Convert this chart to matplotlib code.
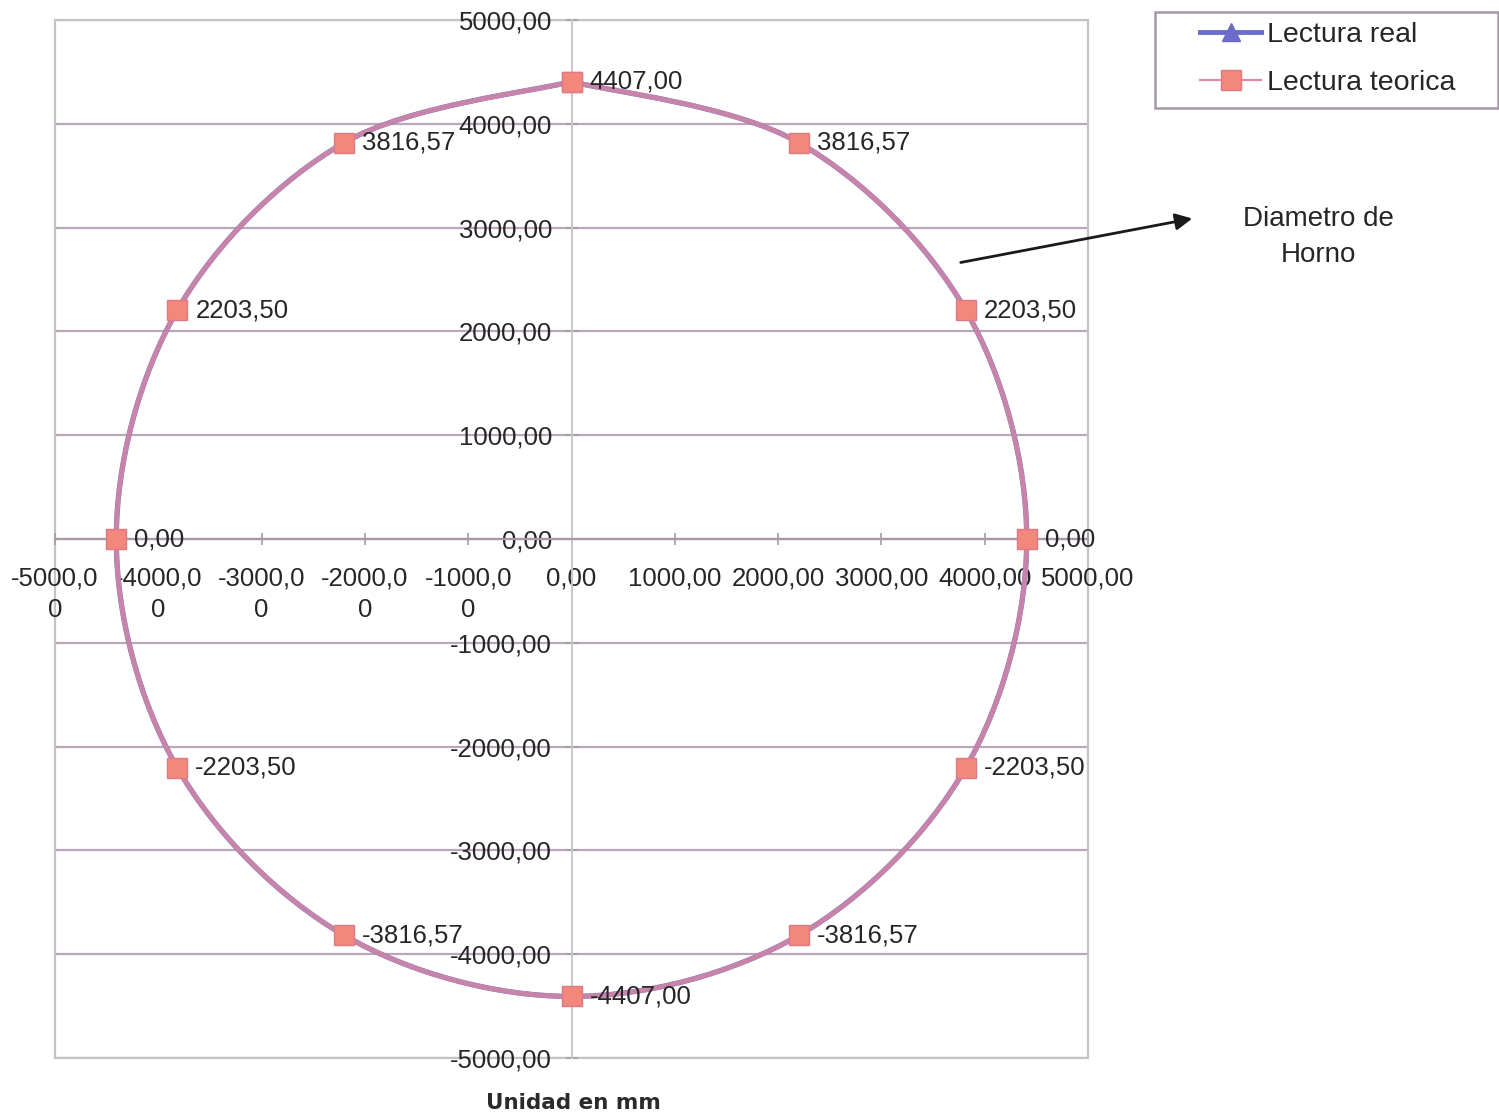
import numpy as np
import matplotlib
matplotlib.use("Agg")
import matplotlib.pyplot as plt
from matplotlib.path import Path
from matplotlib.patches import PathPatch, Rectangle, FancyArrowPatch
from matplotlib.lines import Line2D

plt.rcParams['font.family'] = ['Liberation Sans', 'DejaVu Sans']

# Kiln shell readings around the circumference (mm), clockwise from the top
x_real = [0, 2203.50, 3816.57, 4407.00, 3816.57, 2203.50, 0, -2203.50, -3816.57, -4407.00, -3816.57, -2203.50, 0]
y_real = [4407.00, 3816.57, 2203.50, 0.00, -2203.50, -3816.57, -4407.00, -3816.57, -2203.50, 0.00, 2203.50, 3816.57, 4407.00]
x_teo = [0, 2203.50, 3816.57, 4407.00, 3816.57, 2203.50, 0, -2203.50, -3816.57, -4407.00, -3816.57, -2203.50, 0]
y_teo = [4407.00, 3816.57, 2203.50, 0.00, -2203.50, -3816.57, -4407.00, -3816.57, -2203.50, 0.00, 2203.50, 3816.57, 4407.00]

ticks = [-5000, -4000, -3000, -2000, -1000, 0, 1000, 2000, 3000, 4000, 5000]
xtick_labels = ["-5000,0\n0", "-4000,0\n0", "-3000,0\n0", "-2000,0\n0", "-1000,0\n0",
                "0,00", "1000,00", "2000,00", "3000,00", "4000,00", "5000,00"]
ytick_labels = ["-5000,00", "-4000,00", "-3000,00", "-2000,00", "-1000,00",
                "0,00", "1000,00", "2000,00", "3000,00", "4000,00", "5000,00"]

BLUE = '#6b6bc9'
PINK = '#e08aa2'
SQUARE = '#f4877c'
GRID = '#b7a7b7'
TXT = '#262626'

W, H = 1499, 1120


def fmt(v):
    return f"{v:.2f}".replace('.', ',')


def smooth_path(xs, ys):
    """Cubic Bezier path through the points (Catmull-Rom style smoothing)."""
    p = np.column_stack([xs, ys]).astype(float)
    n = len(p)
    verts = [p[0]]
    codes = [Path.MOVETO]
    for i in range(n - 1):
        p0 = p[i - 1] if i > 0 else p[i]
        p1 = p[i]
        p2 = p[i + 1]
        p3 = p[i + 2] if i + 2 < n else p[i + 1]
        c1 = p1 + (p2 - p0) / 6.0
        c2 = p2 - (p3 - p1) / 6.0
        verts += [c1, c2, p2]
        codes += [Path.CURVE4] * 3
    return Path(verts, codes)


fig = plt.figure(figsize=(W / 100, H / 100), dpi=100)
ax = fig.add_axes([55 / W, 62 / H, 1033 / W, 1038 / H])
ax.set_xlim(-5000, 5000)
ax.set_ylim(-5000, 5000)

# horizontal gridlines
for t in ticks:
    ax.axhline(t, color=GRID, lw=1.6, zorder=1)
# plot-area border
ax.add_patch(Rectangle((0, 0), 1, 1, transform=ax.transAxes, fill=False,
                       edgecolor='#c4c4c4', lw=1.6, zorder=1, clip_on=False))

# axes through the origin
for s in ['top', 'right']:
    ax.spines[s].set_visible(False)
ax.spines['left'].set_position(('data', 0))
ax.spines['bottom'].set_position(('data', 0))
ax.spines['left'].set_color('#c8c8c8')
ax.spines['bottom'].set_color('#a898a8')
ax.spines['left'].set_linewidth(1.4)
ax.spines['bottom'].set_linewidth(1.6)

ax.set_xticks(ticks)
ax.set_xticklabels(xtick_labels, linespacing=1.4)
ax.set_yticks(ticks)
ax.set_yticklabels(ytick_labels)
ax.tick_params(axis='both', direction='inout', length=8, width=1.2,
               colors='#a0a0a0', labelcolor=TXT, labelsize=18.5)
ax.tick_params(axis='y', pad=10)
ax.tick_params(axis='x', pad=16)

# series: real reading (underneath) and theoretical reading
ax.add_patch(PathPatch(smooth_path(x_real, y_real), fill=False, edgecolor=BLUE,
                       lw=3.8, zorder=3))
ax.plot(x_real, y_real, ls='none', marker='^', ms=13, color=BLUE, zorder=4)
ax.add_patch(PathPatch(smooth_path(x_teo, y_teo), fill=False, edgecolor=PINK,
                       lw=3.5, alpha=0.8, zorder=5))
ax.plot(x_teo, y_teo, ls='none', marker='s', ms=14, mfc=SQUARE, mec='#dc7a86',
        mew=1, zorder=6)

for xv, yv in zip(x_teo[:-1], y_teo[:-1]):
    ax.annotate(fmt(yv), (xv, yv), xytext=(13, 0), textcoords='offset points',
                ha='left', va='center', fontsize=18.5, color=TXT, zorder=7)

# legend: frame box plus frameless entries
fig.add_artist(Rectangle((1155 / W, 1 - 108 / H), 343 / W, 96 / H,
                         transform=fig.transFigure, fill=True, facecolor='white',
                         edgecolor='#a898a8', lw=1.8))
handles = [
    Line2D([], [], color=BLUE, lw=3.5, marker='^', ms=13),
    Line2D([], [], color=PINK, lw=1.6, marker='s', ms=14, mfc=SQUARE, mec='#dc7a86'),
]
leg = fig.legend(handles, ['Lectura real', 'Lectura teorica'],
                 loc='center left', bbox_to_anchor=(1200 / W, 1 - 59 / H),
                 borderaxespad=0, borderpad=0, fontsize=20.5, frameon=False,
                 handlelength=2.15, handletextpad=0.2, labelspacing=0.78)
for t in leg.get_texts():
    t.set_color(TXT)

# annotation for the kiln diameter
fig.text(1318 / W, 1 - 237 / H, 'Diametro de\nHorno', ha='center', va='center',
         fontsize=20, color=TXT, linespacing=1.45)
fig.add_artist(FancyArrowPatch(
    (958 / W, 1 - 263 / H), (1195 / W, 1 - 218 / H),
    transform=fig.transFigure, arrowstyle='-|>', mutation_scale=25,
    color='#1a1a1a', lw=2))

fig.text(573 / W, 1 - 1103 / H, 'Unidad en mm', ha='center', va='center',
         fontsize=15.5, fontweight='bold', family='DejaVu Sans', color='#2a2a2a')

fig.savefig('out.png', dpi=100)
